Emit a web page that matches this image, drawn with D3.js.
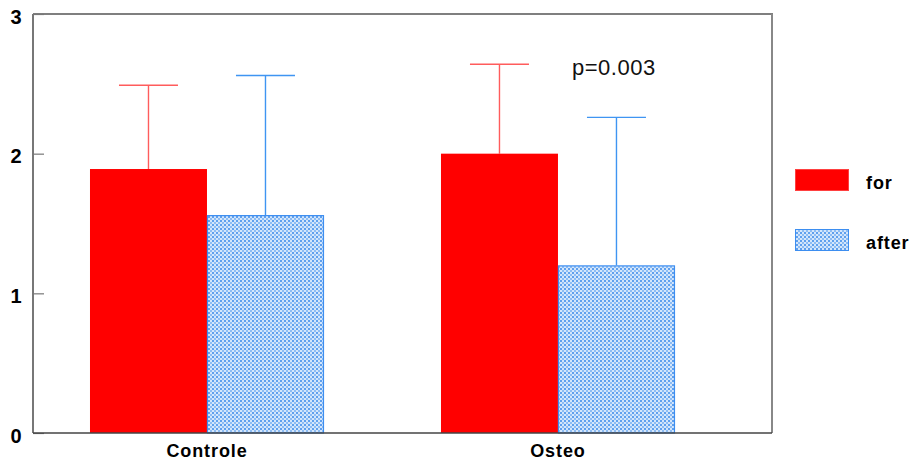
<!DOCTYPE html>
<html><head><meta charset="utf-8">
<script src="https://cdn.jsdelivr.net/npm/d3@7"></script>
<style>body{margin:0;background:#fff}svg{display:block}</style>
</head><body>
<svg id="c" width="917" height="464"></svg>
<script>
const categories = ["Controle", "Osteo"];
const seriesNames = ["for", "after"];
const forValues = [1.89, 2.00];
const afterValues = [1.56, 1.20];
const forErrTop = [2.49, 2.64];
const afterErrTop = [2.56, 2.26];
const yTicks = [0, 1, 2, 3];
const annotation = "p=0.003";

const svg = d3.select("#c");
const defs = svg.append("defs");
const pat = defs.append("pattern").attr("id","hatch").attr("patternUnits","userSpaceOnUse")
  .attr("width",4).attr("height",4);
pat.append("rect").attr("width",4).attr("height",4).attr("fill","#d4e6fb");
pat.append("rect").attr("x",0).attr("y",0).attr("width",2).attr("height",2).attr("fill","#5fa0ee");
pat.append("rect").attr("x",2).attr("y",2).attr("width",2).attr("height",2).attr("fill","#8cbcf4");

const FONT = "Liberation Sans, Arial, sans-serif";
const L = 33, R = 772, T = 14, B = 433;
const y = d3.scaleLinear().domain([0,3]).range([B,T]);
const x = d3.scaleBand().domain(categories).range([L, R])
  .paddingInner(1/3).paddingOuter(0.2194).align(0.37);
const xs = d3.scaleBand().domain(seriesNames).range([0, x.bandwidth()]);

// frame
svg.append("line").attr("x1",L).attr("x2",R+1).attr("y1",T).attr("y2",T).attr("stroke","#000").attr("stroke-width",1.2);
svg.append("line").attr("x1",R).attr("x2",R).attr("y1",T).attr("y2",B).attr("stroke","#888").attr("stroke-width",2);

const colors = {for:"#ff0000", after:"url(#hatch)"};
const errColor = {for:"#ff5c5c", after:"#3f95f2"};
const data = [];
categories.forEach((c,i)=>{
  data.push({c, s:"for", v:forValues[i], e:forErrTop[i]});
  data.push({c, s:"after", v:afterValues[i], e:afterErrTop[i]});
});

// error bars (behind bars)
const capW = 59;
data.forEach(d=>{
  const cx = x(d.c) + xs(d.s) + xs.bandwidth()/2;
  svg.append("line").attr("x1",cx).attr("x2",cx).attr("y1",y(d.v)).attr("y2",y(d.e))
    .attr("stroke",errColor[d.s]).attr("stroke-width",1.4);
  svg.append("line").attr("x1",cx-capW/2).attr("x2",cx+capW/2).attr("y1",y(d.e)).attr("y2",y(d.e))
    .attr("stroke",errColor[d.s]).attr("stroke-width",1.4);
});

// bars
data.forEach(d=>{
  const r = svg.append("rect").attr("x",x(d.c)+xs(d.s)).attr("width",xs.bandwidth())
    .attr("y",y(d.v)).attr("height",y(0)-y(d.v)).attr("fill",colors[d.s]);
  if(d.s==="after") r.attr("stroke","#3d8ef0").attr("stroke-width",1.2)
    .attr("x",x(d.c)+xs(d.s)+0.5).attr("width",xs.bandwidth()-1)
    .attr("y",y(d.v)+0.5).attr("height",y(0)-y(d.v)-0.5);
});

// y axis
const ya = svg.append("g").attr("transform",`translate(${L},0)`)
  .call(d3.axisRight(y).tickValues(yTicks).tickSize(11).tickFormat(""));
ya.select(".domain").attr("stroke","#777").attr("stroke-width",2).attr("d",`M0,${T}V${B}`);
ya.selectAll(".tick line").attr("stroke","#777").attr("stroke-width",1.2);
svg.append("g").selectAll("text").data(yTicks).join("text")
  .attr("x",16).attr("y",d=>y(d)+9.5).attr("text-anchor","middle")
  .attr("font-family",FONT).attr("font-weight","bold").attr("font-size",20)
  .text(d=>d3.format("d")(d));

// x axis
const xa = svg.append("g").attr("transform",`translate(0,${B})`)
  .call(d3.axisBottom(x).tickSize(0).tickPadding(11));
xa.select(".domain").attr("stroke","#444").attr("stroke-width",1.5).attr("d",`M${L},0H${R}`);
xa.selectAll("text").attr("font-family",FONT).attr("font-weight","bold")
  .attr("font-size",18).attr("letter-spacing","0.9px").attr("fill","#000").attr("dy","0.71em");

// annotation
svg.append("text").attr("x",572).attr("y",75).attr("font-family",FONT)
  .attr("font-size",22).attr("letter-spacing","0.5px").attr("fill","#111").text(annotation);

// legend
const lg = svg.append("g");
seriesNames.forEach((s,i)=>{
  const yy = 169 + i*60;
  lg.append("rect").attr("x",795.5).attr("y",yy+0.5).attr("width",53).attr("height",21)
    .attr("fill",colors[s]).attr("stroke", s==="after" ? "#3d8ef0" : "#ff4040").attr("stroke-width",1);
  lg.append("text").attr("x",866).attr("y",yy+20).attr("font-family",FONT)
    .attr("font-weight","bold").attr("font-size",18).attr("letter-spacing","0.9px").text(s);
});
</script>
</body></html>
